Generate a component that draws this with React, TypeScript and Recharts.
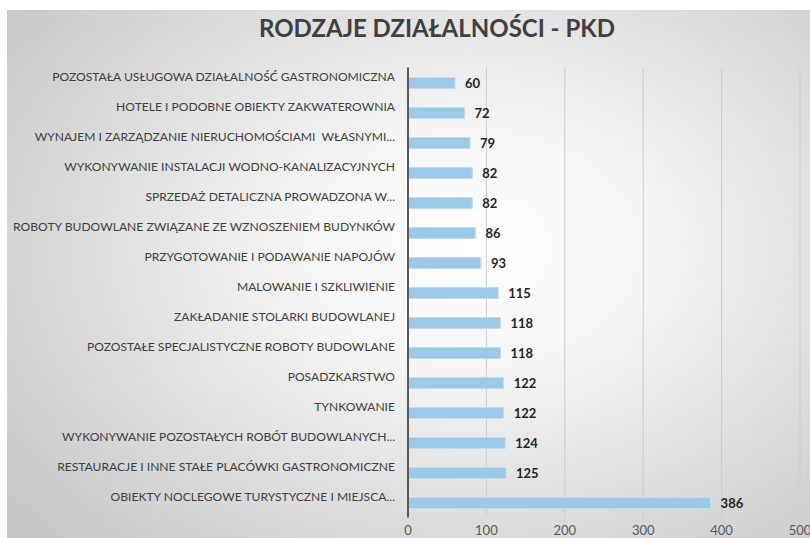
import { BarChart, Bar, XAxis, YAxis, CartesianGrid, LabelList } from 'recharts';

const categories = [
  'POZOSTAŁA USŁUGOWA DZIAŁALNOŚĆ GASTRONOMICZNA',
  'HOTELE I PODOBNE OBIEKTY ZAKWATEROWNIA',
  'WYNAJEM I ZARZĄDZANIE NIERUCHOMOŚCIAMI  WŁASNYMI...',
  'WYKONYWANIE INSTALACJI WODNO-KANALIZACYJNYCH',
  'SPRZEDAŻ DETALICZNA PROWADZONA W...',
  'ROBOTY BUDOWLANE ZWIĄZANE ZE WZNOSZENIEM BUDYNKÓW',
  'PRZYGOTOWANIE I PODAWANIE NAPOJÓW',
  'MALOWANIE I SZKLIWIENIE',
  'ZAKŁADANIE STOLARKI BUDOWLANEJ',
  'POZOSTAŁE SPECJALISTYCZNE ROBOTY BUDOWLANE',
  'POSADZKARSTWO',
  'TYNKOWANIE',
  'WYKONYWANIE POZOSTAŁYCH ROBÓT BUDOWLANYCH...',
  'RESTAURACJE I INNE STAŁE PLACÓWKI GASTRONOMICZNE',
  'OBIEKTY NOCLEGOWE TURYSTYCZNE I MIEJSCA...',
];

const counts = [60, 72, 79, 82, 82, 86, 93, 115, 118, 118, 122, 122, 124, 125, 386];

const xTicks = [0, 100, 200, 300, 400, 500];

const data = categories.map((name, i) => ({ name, value: counts[i] }));

const FONT = 'Lato, "Open Sans", sans-serif';

function CategoryTick(props: any) {
  const { x, y, payload } = props;
  return (
    <text
      x={x - 5}
      y={y - 6}
      dy="0.35em"
      textAnchor="end"
      fill="#404040"
      fontSize={12.1}
      fontFamily={FONT}
      style={{ whiteSpace: 'pre' }}
    >
      {payload.value}
    </text>
  );
}

export default function App() {
  return (
    <div style={{ position: 'absolute', left: 0, top: 0, width: 810, height: 538, background: '#fff', overflow: 'hidden' }}>
      <div
        style={{
          position: 'absolute',
          left: 7,
          top: 10,
          width: 803,
          height: 528,
          background: 'radial-gradient(ellipse 72% 78% at 58% 45%, #ffffff 0%, #f6f6f6 28%, #dedede 65%, #c8c8c8 100%)',
        }}
      />
      <div
        style={{
          position: 'absolute',
          left: 0,
          top: 13,
          width: 874,
          textAlign: 'center',
          fontFamily: FONT,
          fontWeight: 700,
          fontSize: 24,
          color: '#404040',
        }}
      >
        RODZAJE DZIAŁALNOŚCI - PKD
      </div>
      <div style={{ position: 'absolute', left: 0, top: 0 }}>
        <BarChart
          width={810}
          height={538}
          data={data}
          layout="vertical"
          margin={{ top: 67.5, right: 10, bottom: 0, left: 0 }}
          barSize={11}
        >
          <CartesianGrid horizontal={false} stroke="#cccccc" />
          <XAxis
            type="number"
            domain={[0, 500]}
            ticks={xTicks}
            height={20.5}
            axisLine={false}
            tickLine={false}
            tick={{ fill: '#595959', fontSize: 13, fontFamily: FONT }}
          />
          <YAxis
            type="category"
            dataKey="name"
            width={408}
            axisLine={{ stroke: '#595959', strokeWidth: 2 }}
            tickLine={false}
            interval={0}
            tick={<CategoryTick />}
          />
          <Bar dataKey="value" fill="#9DC9E8" stroke="#BFDDF2" strokeWidth={1} isAnimationActive={false}>
            <LabelList
              dataKey="value"
              position="right"
              offset={10}
              fill="#262626"
              fontSize={13}
              fontWeight={700}
              fontFamily={FONT}
            />
          </Bar>
        </BarChart>
      </div>
    </div>
  );
}
